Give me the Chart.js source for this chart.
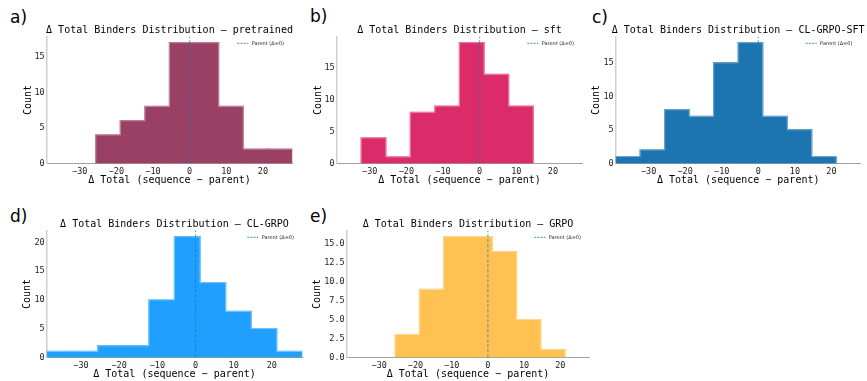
<!DOCTYPE html>
<html>
<head>
<meta charset="utf-8">
<script src="https://cdn.jsdelivr.net/npm/chart.js"></script>
<style>
  body { margin: 0; width: 867px; height: 381px; background: #fff; position: relative; overflow: hidden; }
  canvas { position: absolute; }
  .tag { position: absolute; font-family: "DejaVu Sans", sans-serif; font-size: 17px; color: #000; line-height: 20px; }
</style>
</head>
<body>
<div class="tag" style="left:10px;top:7px">a)</div>
<div class="tag" style="left:310px;top:6px">b)</div>
<div class="tag" style="left:592px;top:7px">c)</div>
<div class="tag" style="left:10px;top:206px">d)</div>
<div class="tag" style="left:310px;top:206px">e)</div>
<canvas id="pa"></canvas>
<canvas id="pb"></canvas>
<canvas id="pc"></canvas>
<canvas id="pd"></canvas>
<canvas id="pe"></canvas>
<script>
// shared histogram bins (delta total binders, sequence - parent)
const binEdges = [-39, -32.3, -25.6, -18.9, -12.2, -5.5, 1.2, 7.9, 14.6, 21.3, 28];
const xTicks = [-30, -20, -10, 0, 10, 20];
const parentDelta = 0;

// counts per bin for each model
const pretrained = [0, 0, 4, 6, 8, 17, 17, 8, 2, 2];
const sft        = [0, 4, 1, 8, 9, 19, 14, 9, 0, 0];
const clGrpoSft  = [1, 2, 8, 7, 15, 18, 7, 5, 1, 0];
const clGrpo     = [1, 1, 2, 2, 10, 21, 13, 8, 5, 1];
const grpo       = [0, 0, 3, 9, 16, 16, 14, 5, 1, 0];

const countTicks5  = [0, 5, 10, 15];
const countTicks20 = [0, 5, 10, 15, 20];
const countTicksHalf = [0, 2.5, 5, 7.5, 10, 12.5, 15];

const MONO = '"DejaVu Sans Mono", monospace';
const binCenters = binEdges.slice(0, -1).map((e, i) => (e + binEdges[i + 1]) / 2);

const minus = v => (v < 0 ? '\u2212' + Math.abs(v) : String(v));

// step outline along the top of the histogram: (edge_i, count_i) with stepped 'before'
function stepOutline(counts) {
  const pts = [{ x: binEdges[0], y: 0 }];
  counts.forEach((c, i) => pts.push({ x: binEdges[i], y: c }));
  pts.push({ x: binEdges[binEdges.length - 1], y: 0 });
  return pts;
}

// dashed marker for the parent (delta = 0) plus its small key in the top-right corner
const parentLine = {
  id: 'parentLine',
  afterDatasetsDraw(chart) {
    const { ctx, chartArea: a, scales } = chart;
    const px = scales.x.getPixelForValue(parentDelta);
    ctx.save();
    ctx.strokeStyle = 'rgba(31,119,180,0.75)';
    ctx.lineWidth = 1;
    ctx.setLineDash([3, 2]);
    ctx.beginPath();
    ctx.moveTo(px, a.bottom);
    ctx.lineTo(px, a.top);
    ctx.stroke();
    // key
    const ky = a.top + 6.6;
    ctx.beginPath();
    ctx.setLineDash([2, 1.2]);
    ctx.strokeStyle = 'rgba(31,119,180,0.85)';
    ctx.moveTo(a.right - 55, ky);
    ctx.lineTo(a.right - 44, ky);
    ctx.stroke();
    ctx.setLineDash([]);
    ctx.fillStyle = '#222';
    ctx.font = '5px "DejaVu Sans", sans-serif';
    ctx.textBaseline = 'middle';
    ctx.textAlign = 'left';
    ctx.fillText('Parent (\u0394=0)', a.right - 40.6, ky);
    ctx.restore();
  }
};

// title centred over the plot area
const panelTitle = {
  id: 'panelTitle',
  afterDraw(chart, args, opts) {
    const { ctx, chartArea: a } = chart;
    ctx.save();
    ctx.fillStyle = '#000';
    ctx.font = '10px ' + MONO;
    ctx.textAlign = 'center';
    ctx.textBaseline = 'middle';
    ctx.fillText(opts.text, (a.left + a.right) / 2, a.top - 6);
    ctx.restore();
  }
};

function makePanel(p) {
  const [bx, by, bw, bh] = p.box;
  const [l, t, r, b] = p.area;
  const cv = document.getElementById(p.id);
  cv.width = bw; cv.height = bh;
  cv.style.left = bx + 'px'; cv.style.top = by + 'px';
  cv.style.width = bw + 'px'; cv.style.height = bh + 'px';

  const yMax = Math.max(...p.counts) * 1.05;

  new Chart(cv, {
    type: 'bar',
    data: {
      datasets: [{
        label: p.title,
        // empty bins are left out so they leave no sliver on the baseline
        data: p.counts.map((c, i) => ({ x: binCenters[i], y: c > 0 ? c : null })),
        backgroundColor: p.color,
        borderWidth: 0,
        inflateAmount: 0.7,
        barPercentage: 1,
        categoryPercentage: 1,
        order: 2
      }, {
        type: 'line',
        label: 'edge',
        data: stepOutline(p.counts),
        stepped: true,
        borderColor: 'rgba(255,255,255,0.4)',
        borderWidth: 1,
        pointRadius: 0,
        fill: false,
        order: 1
      }]
    },
    options: {
      responsive: false,
      animation: false,
      devicePixelRatio: 1,
      layout: { padding: { left: 0, top: t - by, right: bx + bw - r, bottom: 0 } },
      plugins: {
        legend: { display: false },
        tooltip: { enabled: false },
        panelTitle: { text: p.title }
      },
      scales: {
        x: {
          type: 'linear',
          z: 1,
          min: binEdges[0],
          max: binEdges[binEdges.length - 1],
          offset: false,
          grid: { display: false, drawTicks: false, offset: false },
          border: { display: true, color: '#9a9a9a', width: 1 },
          afterBuildTicks: s => { s.ticks = xTicks.map(v => ({ value: v })); },
          afterFit: s => { s.height = by + bh - b; },
          ticks: {
            padding: 3,
            color: '#222',
            font: { family: MONO, size: 8.5 },
            maxRotation: 0,
            callback: v => minus(v)
          },
          title: {
            display: true,
            text: '\u0394 Total (sequence \u2212 parent)',
            color: '#000',
            font: { family: MONO, size: 10 },
            padding: { top: 0, bottom: by + bh - p.xTitleY - 6 }
          }
        },
        y: {
          z: 1,
          min: 0,
          max: yMax,
          grid: { display: false, drawTicks: false },
          border: { display: true, color: '#cfcfcf', width: 1.5 },
          afterBuildTicks: s => { s.ticks = p.yTicks.map(v => ({ value: v })); },
          afterFit: s => { s.width = l - bx; },
          ticks: {
            padding: 2,
            color: '#222',
            font: { family: MONO, size: 8.5 },
            callback: v => (p.yDecimals ? v.toFixed(1) : String(v))
          },
          title: {
            display: true,
            text: 'Count',
            color: '#000',
            font: { family: MONO, size: 10 },
            padding: { top: p.yTitleX - bx - 6, bottom: 0 }
          }
        }
      }
    },
    plugins: [parentLine, panelTitle]
  });
}

makePanel({ id: 'pa', counts: pretrained, yTicks: countTicks5, color: '#9a4065',
  title: '\u0394 Total Binders Distribution \u2014 pretrained',
  box: [0, 20, 296, 170], area: [46.7, 36.7, 292.3, 163.3], yTitleX: 28.3, xTitleY: 180 });
makePanel({ id: 'pb', counts: sft, yTicks: countTicks5, color: '#dc2b69',
  title: '\u0394 Total Binders Distribution \u2014 sft',
  box: [296, 20, 290, 170], area: [336.7, 36.7, 582.3, 163.3], yTitleX: 318, xTitleY: 180 });
makePanel({ id: 'pc', counts: clGrpoSft, yTicks: countTicks5, color: '#1c75b0',
  title: '\u0394 Total Binders Distribution \u2014 CL-GRPO-SFT',
  box: [586, 20, 281, 170], area: [615.7, 36.7, 860.7, 163.3], yTitleX: 596.5, xTitleY: 180 });
makePanel({ id: 'pd', counts: clGrpo, yTicks: countTicks20, color: '#1f9ffe',
  title: '\u0394 Total Binders Distribution \u2014 CL-GRPO',
  box: [0, 212, 306, 169], area: [46.7, 230.7, 302.3, 357.3], yTitleX: 27.5, xTitleY: 374.3 });
makePanel({ id: 'pe', counts: grpo, yTicks: countTicksHalf, yDecimals: true, color: '#fec152',
  title: '\u0394 Total Binders Distribution \u2014 GRPO',
  box: [306, 212, 290, 169], area: [346.7, 230.7, 589.3, 357.3], yTitleX: 317.5, xTitleY: 374.3 });
</script>
</body>
</html>
